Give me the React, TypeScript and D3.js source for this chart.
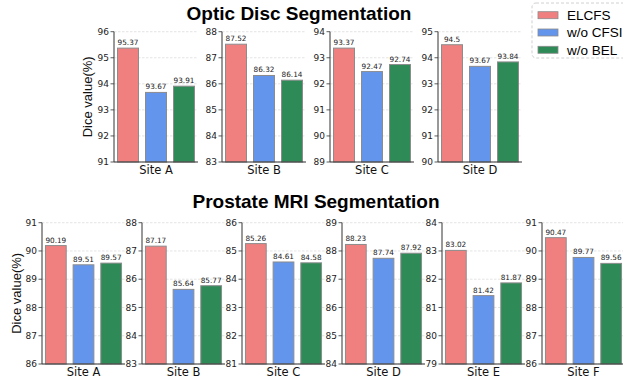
import * as d3 from "d3";

const methods = ["ELCFS", "w/o CFSI", "w/o BEL"];
const colors = ["#F08080", "#6495ED", "#2E8B57"];

const opticSites = ["Site A", "Site B", "Site C", "Site D"];
const opticValues = [
  [95.37, 93.67, 93.91],
  [87.52, 86.32, 86.14],
  [93.37, 92.47, 92.74],
  [94.5, 93.67, 93.84],
];
const opticYMin = [91, 83, 89, 90];

const prostateSites = ["Site A", "Site B", "Site C", "Site D", "Site E", "Site F"];
const prostateValues = [
  [90.19, 89.51, 89.57],
  [87.17, 85.64, 85.77],
  [85.26, 84.61, 84.58],
  [88.23, 87.74, 87.92],
  [83.02, 81.42, 81.87],
  [90.47, 89.77, 89.56],
];
const prostateYMin = [86, 83, 81, 84, 79, 86];

const W = 623;
const H = 381;
const tickFont = "DejaVu Sans, sans-serif";
const labelFont = "Liberation Sans, Arial, sans-serif";

type PanelProps = {
  left: number;
  top: number;
  width: number;
  height: number;
  site: string;
  values: number[];
  ymin: number;
};

function Panel({ left, top, width, height, site, values, ymin }: PanelProps) {
  const x = d3.scaleBand<string>()
    .domain(methods)
    .range([left, left + width])
    .paddingInner(0.25)
    .paddingOuter(0.125);
  const y = d3.scaleLinear().domain([ymin, ymin + 5]).range([top + height, top]);
  const ticks = d3.range(ymin, ymin + 6);
  const bottom = top + height;
  return (
    <g>
      {ticks.map((t) => (
        <line key={"g" + t} x1={left} x2={left + width} y1={y(t)} y2={y(t)}
          stroke="#d9d9d9" strokeWidth={0.7} strokeDasharray="2.5,1.5" />
      ))}
      {values.map((v, i) => (
        <g key={methods[i]}>
          <rect x={x(methods[i])} y={y(v)} width={x.bandwidth()} height={bottom - y(v)}
            fill={colors[i]} stroke="#8c8c8c" strokeWidth={1} />
          <text x={(x(methods[i]) ?? 0) + x.bandwidth() / 2} y={y(v) - 3}
            textAnchor="middle" fontSize={7.3} fontFamily={tickFont} fill="#222">
            {String(v)}
          </text>
        </g>
      ))}
      <line x1={left} x2={left} y1={top} y2={bottom} stroke="#333" strokeWidth={1} />
      <line x1={left} x2={left + width} y1={bottom} y2={bottom} stroke="#333" strokeWidth={1} />
      {ticks.map((t) => (
        <g key={"t" + t}>
          <line x1={left - 3.5} x2={left} y1={y(t)} y2={y(t)} stroke="#333" strokeWidth={0.8} />
          <text x={left - 5} y={y(t) + 3.2} textAnchor="end" fontSize={9}
            fontFamily={tickFont} fill="#222">{t}</text>
        </g>
      ))}
      <text x={left + width / 2} y={bottom + 11.5} textAnchor="middle" fontSize={11.5}
        fontFamily={tickFont} fill="#111">{site}</text>
    </g>
  );
}

export default function App() {
  const topY = 31.7;
  const topH = 130.3;
  const botY = 222.7;
  const botH = 141.3;
  return (
    <svg width={W} height={H} viewBox={`0 0 ${W} ${H}`}
      style={{ position: "absolute", left: 0, top: 0, background: "#fff" }}>
      <text x={299} y={20} textAnchor="middle" fontSize={19} fontWeight="bold"
        fontFamily={labelFont} fill="#000">Optic Disc Segmentation</text>
      <text x={316} y={207.5} textAnchor="middle" fontSize={19} fontWeight="bold"
        fontFamily={labelFont} fill="#000">Prostate MRI Segmentation</text>

      {opticSites.map((s, i) => (
        <Panel key={"o" + s} left={114 + i * 108} top={topY} width={84} height={topH}
          site={s} values={opticValues[i]} ymin={opticYMin[i]} />
      ))}
      {prostateSites.map((s, i) => (
        <Panel key={"p" + s} left={42 + i * 100} top={botY} width={83} height={botH}
          site={s} values={prostateValues[i]} ymin={prostateYMin[i]} />
      ))}

      <text transform={`translate(92,${topY + topH / 2}) rotate(-90)`} textAnchor="middle"
        fontSize={13} fontFamily={labelFont} fill="#111">Dice value(%)</text>
      <text transform={`translate(21,${botY + botH / 2}) rotate(-90)`} textAnchor="middle"
        fontSize={13} fontFamily={labelFont} fill="#111">Dice value(%)</text>

      <rect x={532} y={3} width={100} height={55} rx={4} fill="#fff"
        stroke="#d0d0d0" strokeWidth={1} strokeDasharray="3,2" />
      {methods.map((m, i) => (
        <g key={"l" + m}>
          <rect x={538} y={11.7 + i * 17.3} width={20} height={7} fill={colors[i]}
            stroke="#8c8c8c" strokeWidth={0.8} />
          <text x={567} y={20 + i * 17.3} fontSize={13.5} fontFamily={labelFont} fill="#000">{m}</text>
        </g>
      ))}
    </svg>
  );
}
